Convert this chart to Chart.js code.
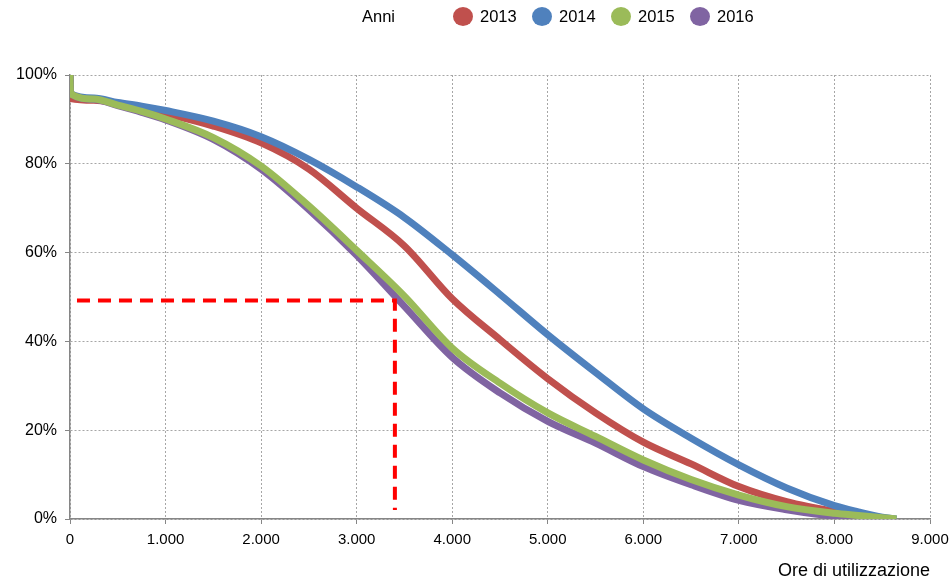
<!DOCTYPE html>
<html lang="it">
<head>
<meta charset="utf-8">
<title>Ore di utilizzazione</title>
<script src="https://cdn.jsdelivr.net/npm/chart.js@4.4.0/dist/chart.umd.min.js"></script>
<style>
    html, body { margin: 0; padding: 0; background: #fff; }
    #wrap { position: relative; width: 949px; height: 582px; }
    #legend {
        position: absolute; left: 362px; top: 7px;
        display: flex; align-items: center;
        font: 16.5px 'Liberation Sans', Arial, sans-serif;
        color: #000;
    }
    #legend .title { width: 91px; }
    #legend .item { display: flex; align-items: center; width: 79px; }
    #legend .dot { width: 20px; height: 19px; border-radius: 50%; margin-right: 7px; }
</style>
</head>
<body>
<div id="wrap">
    <canvas id="chart" width="949" height="582"></canvas>
    <div id="legend"></div>
</div>
<script>
// Ore (asse x) e percentuali
const ore = [0, 5, 250, 500, 750, 1000, 1500, 2000, 2500, 3000, 3500, 4000, 4500, 5000, 5500, 6000, 6500, 7000, 7500, 8000, 8250, 8500, 8650];
const anni = ['2013', '2014', '2015', '2016'];
const colori = ['#C0504D', '#4F81BD', '#9BBB59', '#8064A2'];

const perc2013 = [100, 94.7, 94.3, 93.6, 92.6, 91.3, 88.5, 84.7, 78.8, 70.0, 61.5, 49.6, 40.4, 31.6, 23.9, 17.3, 12.4, 7.3, 3.9, 1.7, 0.9, 0, null];
const perc2014 = [100, 95.8, 94.8, 93.8, 93.0, 92.0, 89.6, 86.1, 81.0, 74.8, 67.9, 59.5, 50.6, 41.5, 33.0, 24.8, 18.2, 12.2, 7.0, 3.0, 1.6, 0.4, 0];
const perc2015 = [100, 95.8, 94.6, 93.2, 91.8, 90.1, 85.9, 79.5, 70.5, 60.5, 50.2, 38.5, 30.6, 23.9, 18.6, 13.3, 8.9, 5.4, 2.8, 1.3, 0.8, 0.3, 0];
const perc2016 = [100, 95.8, 94.5, 93.1, 91.6, 89.9, 85.5, 78.8, 69.7, 59.4, 47.9, 36.4, 28.4, 22.0, 17.1, 11.8, 7.7, 4.2, 2.1, 0.6, 0, null, null];

// linea di riferimento tratteggiata (49% a 3.400 ore)
const rifOre = [73, 3400, 3400];
const rifPerc = [49.2, 49.2, 2];

const serie = [perc2013, perc2014, perc2015, perc2016];
const ordine = [4, 3, 1, 2]; // verde sopra viola, blu sopra rosso

function punti(xs, ys) {
    return xs.map((x, i) => ({ x: x, y: ys[i] })).filter(p => p.y !== null);
}

function migliaia(v) {
    return v.toString().replace(/\B(?=(\d{3})+(?!\d))/g, '.');
}

const fontLabel = "'Liberation Sans', Arial, sans-serif";

const datasets = anni.map((anno, i) => ({
    label: anno,
    data: punti(ore, serie[i]),
    borderColor: colori[i],
    backgroundColor: colori[i],
    borderWidth: 7,
    cubicInterpolationMode: 'monotone',
    pointRadius: 0,
    fill: false,
    order: ordine[i]
}));

datasets.push({
    label: 'riferimento',
    data: punti(rifOre, rifPerc),
    borderColor: '#FF0000',
    borderWidth: 4,
    borderDash: [13, 8],
    borderCapStyle: 'butt',
    tension: 0,
    pointRadius: 0,
    fill: false,
    order: 0
});

// Legenda
const legendDiv = document.getElementById('legend');
legendDiv.innerHTML = '<span class="title">Anni</span>' + anni.map((anno, i) =>
    `<span class="item"><span class="dot" style="background:${colori[i]}"></span>${anno}</span>`
).join('');

const ctx = document.getElementById('chart').getContext('2d');

new Chart(ctx, {
    type: 'line',
    data: { datasets: datasets },
    options: {
        responsive: false,
        animation: false,
        devicePixelRatio: 1,
        layout: { padding: { top: 75, right: 19, left: 0, bottom: 0 } },
        plugins: {
            legend: { display: false },
            tooltip: { enabled: false }
        },
        scales: {
            x: {
                type: 'linear',
                min: 0,
                max: 9000,
                afterFit: s => {
                    s.height = 63;
                    s.paddingLeft = 0;
                    s.paddingRight = 0;
                },
                ticks: {
                    stepSize: 1000,
                    padding: 7,
                    color: '#000',
                    font: { family: fontLabel, size: 15 },
                    maxRotation: 0,
                    callback: v => migliaia(v)
                },
                grid: { color: '#a6a6a6', tickColor: '#868686', tickLength: 5 },
                border: { color: '#868686', width: 1.5, dash: [2, 2] },
                title: {
                    display: true,
                    text: 'Ore di utilizzazione',
                    align: 'end',
                    color: '#000',
                    font: { family: fontLabel, size: 18 },
                    padding: { top: 0, bottom: 0 }
                }
            },
            y: {
                min: 0,
                max: 100,
                afterFit: s => { s.width = 70; },
                ticks: {
                    stepSize: 20,
                    padding: 8,
                    color: '#000',
                    font: { family: fontLabel, size: 16 },
                    callback: v => v + '%'
                },
                grid: { color: '#a6a6a6', tickColor: '#868686', tickLength: 5 },
                border: { color: '#868686', width: 1.5, dash: [2, 2] }
            }
        }
    }
});
</script>
</body>
</html>
